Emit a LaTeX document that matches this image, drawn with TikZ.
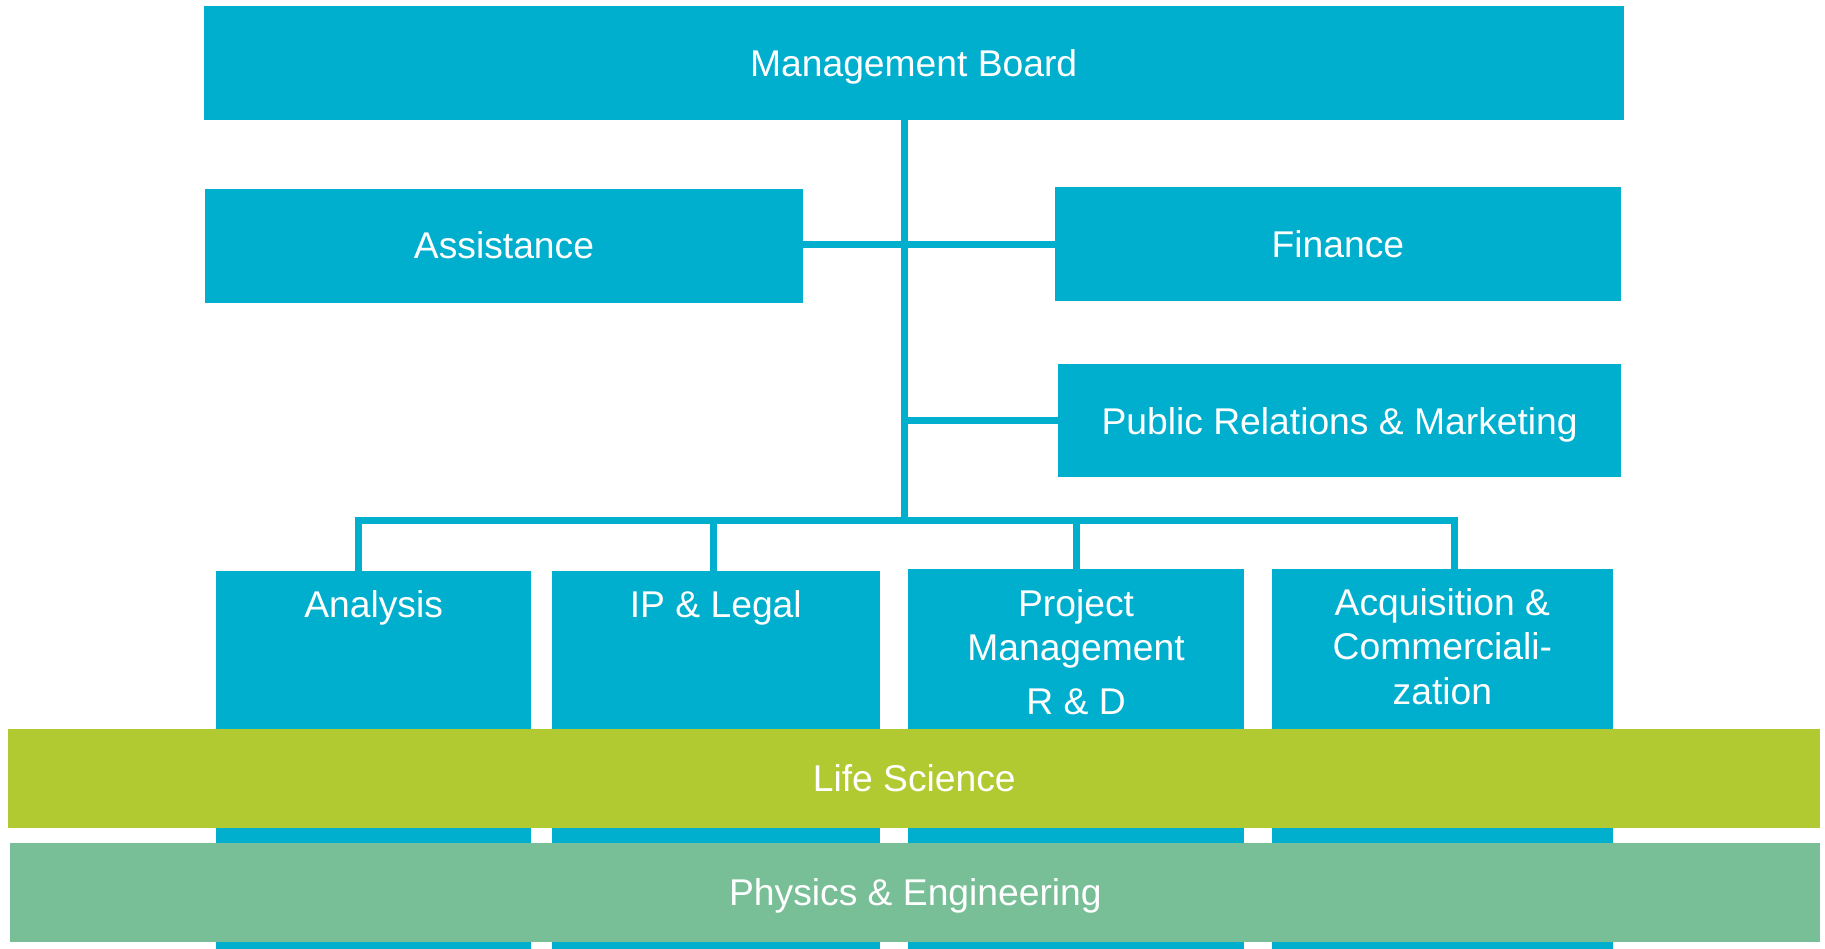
\documentclass[tikz,border=0pt]{standalone}
\usepackage{fontspec}
\setmainfont{Liberation Sans}
\usetikzlibrary{calc}
\definecolor{cblue}{RGB}{0,174,206}
\definecolor{clife}{RGB}{178,202,50}
\definecolor{cphys}{RGB}{120,191,152}
\begin{document}
\begin{tikzpicture}[x=0.5pt,y=-0.5pt,
  box/.style={fill=cblue,draw=none,inner sep=0pt,outer sep=0pt,text=white,
    text height=11.5pt,text depth=0pt,
    font=\fontsize{16}{19}\selectfont},
  band/.style={draw=none,inner sep=0pt,outer sep=0pt,text=white,
    text height=11.5pt,text depth=0pt,
    font=\fontsize{16}{19}\selectfont},
  lbl/.style={inner sep=0pt,outer sep=0pt,text=white,align=center,anchor=north,
    font=\fontsize{16}{19}\selectfont},
  conn/.style={draw=cblue,line width=3pt}]
\useasboundingbox (0,0) rectangle (1568,815);
% boxes
\node[box,minimum width=610pt,minimum height=49pt] (mb) at (785,54) {Management Board};
\node[box,minimum width=257pt,minimum height=49pt] (asst) at (433,211) {Assistance};
\node[box,minimum width=243.5pt,minimum height=49pt] (fin) at (1149.5,210) {Finance};
\node[box,minimum width=242pt,minimum height=48.5pt] (pr) at (1151,361.5) {Public Relations \& Marketing};
\node[box,minimum width=135pt,minimum height=162.25pt] (an) at (321,652.75) {};
\node[box,minimum width=141pt,minimum height=162.25pt] (ip) at (615,652.75) {};
\node[box,minimum width=144.5pt,minimum height=163pt] (pm) at (924.5,652) {};
\node[box,minimum width=146.75pt,minimum height=163.1pt] (acq) at (1239.25,651.9) {};
% box labels
\node[lbl] (anl) at ($(an.north)+(0,17)$) {Analysis};
\node[lbl] (ipl) at ($(ip.north)+(0,17)$) {IP \& Legal};
\node[lbl] (pml) at ($(pm.north)+(0,17.5)$) {Project\\Management\\[4pt]R \& D};
\node[lbl] (acql) at ($(acq.north)+(0,17)$) {Acquisition \&\\Commerciali-\\zation};
% connectors
\coordinate (j) at (777,447);
\coordinate (d1) at (308,447);
\coordinate (d2) at (613,447);
\coordinate (d3) at (924.5,447);
\coordinate (d4) at (1250,447);
\draw[conn] (mb.south -| j) -- (j);
\draw[conn] (fin.west -| asst.east) -- (fin.west);
\draw[conn] (j |- pr.west) -- (pr.west);
\draw[conn] (an.north -| d1) -- (d1) -- (d4) -- (acq.north -| d4);
\draw[conn] (d2) -- (ip.north -| d2);
\draw[conn] (d3) -- (pm.north -| d3);
% bands
\node[band,fill=clife,minimum width=778.5pt,minimum height=42.35pt] (life) at (785.5,668.65) {Life Science};
\node[band,fill=cphys,minimum width=777.5pt,minimum height=42.5pt] (phys) at (786.5,766.5) {Physics \& Engineering};
\end{tikzpicture}
\end{document}
